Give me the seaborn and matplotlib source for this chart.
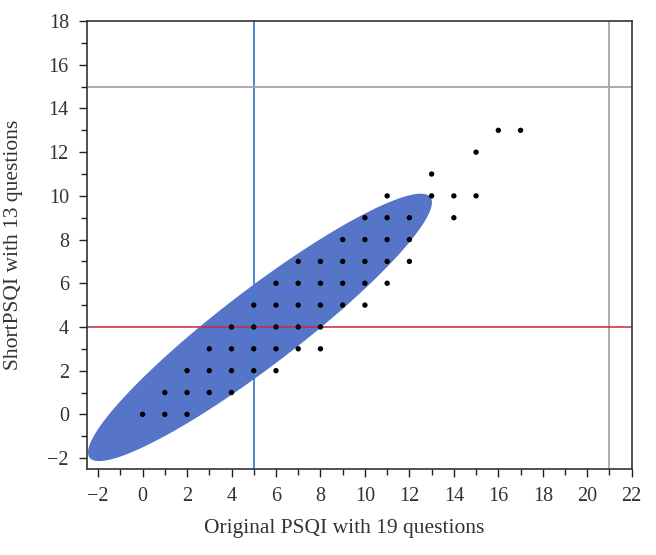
import numpy as np
import pandas as pd
import matplotlib
matplotlib.use("Agg")
import matplotlib.pyplot as plt
from matplotlib.ticker import MultipleLocator
import seaborn as sns

# Observed (original PSQI, short PSQI) score pairs, one per grid position
orig_psqi = [0, 1, 2,
             1, 2, 3, 4,
             2, 3, 4, 5, 6,
             3, 4, 5, 6, 7, 8,
             4, 5, 6, 7, 8,
             5, 6, 7, 8, 9, 10,
             6, 7, 8, 9, 10, 11,
             7, 8, 9, 10, 11, 12,
             9, 10, 11, 12,
             10, 11, 12, 14,
             11, 13, 14, 15,
             13, 15, 16, 17]
short_psqi = [0, 0, 0,
              1, 1, 1, 1,
              2, 2, 2, 2, 2,
              3, 3, 3, 3, 3, 3,
              4, 4, 4, 4, 4,
              5, 5, 5, 5, 5, 5,
              6, 6, 6, 6, 6, 6,
              7, 7, 7, 7, 7, 7,
              8, 8, 8, 8,
              9, 9, 9, 9,
              10, 10, 10, 10,
              11, 12, 13, 13]

# Bivariate normal summary used for the 95% density ellipse
mean_x, mean_y = 5.28, 3.98
sd_x, sd_y = 3.16, 2.50
corr = 0.935
coverage_k = 2.4477  # sqrt(chi2(2, 0.95))

# Cut-off reference lines
cut_x = [5, 21]
cut_y = [4, 15]

df = pd.DataFrame({'orig': orig_psqi, 'short': short_psqi})

sns.set_theme(style="ticks")
plt.rcParams['font.family'] = ['Liberation Serif', 'DejaVu Serif']

fig = plt.figure(figsize=(6.56, 5.55), dpi=100)
ax = fig.add_axes([0.1326, 0.155, 0.8304, 0.807])

# density ellipse
cov = np.array([[sd_x**2, corr*sd_x*sd_y], [corr*sd_x*sd_y, sd_y**2]])
vals, vecs = np.linalg.eigh(cov)
t = np.linspace(0, 2*np.pi, 400)
circle = np.vstack([np.cos(t), np.sin(t)])
pts = vecs @ (np.sqrt(vals)[:, None] * circle) * coverage_k
ax.fill(pts[0] + mean_x, pts[1] + mean_y, color='#5674C8', lw=0, zorder=1)

ax.axvline(cut_x[0], color='#3F7FD0', lw=1.3, zorder=2)
ax.axvline(cut_x[1], color='#A6A6A6', lw=1.3, zorder=2)
ax.axhline(cut_y[0], color='#C52A3A', lw=1.1, zorder=2)
ax.axhline(cut_y[1], color='#A6A6A6', lw=1.3, zorder=2)

sns.scatterplot(data=df, x='orig', y='short', color='black', s=15,
                edgecolor='none', ax=ax, zorder=3)

ax.set_xlim(-2.5, 22)
ax.set_ylim(-2.5, 18)
ax.xaxis.set_major_locator(MultipleLocator(2))
ax.xaxis.set_minor_locator(MultipleLocator(1))
ax.yaxis.set_major_locator(MultipleLocator(2))
ax.yaxis.set_minor_locator(MultipleLocator(1))
ax.tick_params(which='major', direction='out', length=6, width=1, colors='#222222',
               labelsize=14.5, labelcolor='#333333', pad=7)
ax.tick_params(which='minor', direction='out', length=4, width=1, colors='#222222')
for side in ['left', 'right', 'top', 'bottom']:
    ax.spines[side].set_visible(True)
    ax.spines[side].set_color('#333333')
    ax.spines[side].set_linewidth(1.2)

ax.set_xlabel('Original PSQI with 19 questions', fontsize=15.5, color='#333333')
ax.set_ylabel('ShortPSQI with 13 questions', fontsize=15.5, color='#333333')
ax.xaxis.set_label_coords(0.473, -0.112)
ax.yaxis.set_label_coords(-0.118, 0.5)

plt.savefig('out.png', dpi=100)
